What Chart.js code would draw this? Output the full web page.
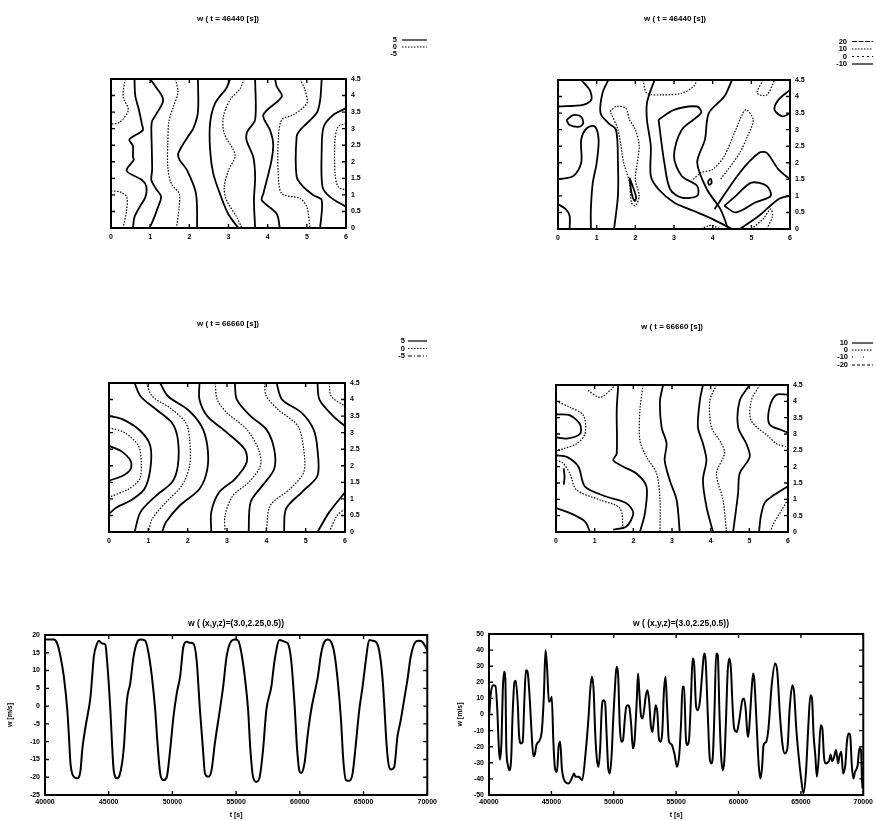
<!DOCTYPE html>
<html><head><meta charset="utf-8">
<script src="https://cdn.jsdelivr.net/npm/chart.js@4.4.0/dist/chart.umd.min.js"></script>
<style>
html,body{margin:0;padding:0;background:#fff;width:876px;height:821px;overflow:hidden;position:relative}
canvas{position:absolute}
</style></head><body>
<canvas id="tl" width="340" height="250" style="left:100px;top:0px;width:340px;height:250px"></canvas>
<canvas id="tr" width="346" height="250" style="left:530px;top:0px;width:346px;height:250px"></canvas>
<canvas id="ml" width="340" height="250" style="left:100px;top:300px;width:340px;height:250px"></canvas>
<canvas id="mr" width="346" height="250" style="left:530px;top:300px;width:346px;height:250px"></canvas>
<canvas id="bl" width="440" height="211" style="left:0px;top:610px;width:440px;height:211px"></canvas>
<canvas id="br" width="440" height="211" style="left:436px;top:610px;width:440px;height:211px"></canvas>
<script>
// ---------- tick values ----------
const contourXTicks = [0,1,2,3,4,5,6];
const contourYTicks = [0,0.5,1,1.5,2,2.5,3,3.5,4,4.5];
const timeTicks = [40000,45000,50000,55000,60000,65000,70000];
const wTicksLeft = [-25,-20,-15,-10,-5,0,5,10,15,20];
const wTicksRight = [-50,-40,-30,-20,-10,0,10,20,30,40,50];

// ---------- titles and contour levels ----------
const titleTop = "w ( t = 46440 [s])";
const titleMid = "w ( t = 66660 [s])";
const titleBottom = "w ( (x,y,z)=(3.0,2.25,0.5))";
const levelsTL = ["5","0","-5"];
const levelsTR = ["20","10","0","-10"];
const levelsML = ["5","0","-5"];
const levelsMR = ["10","0","-10","-20"];

// ---------- contour lines, t = 46440, left ----------
const tlSolid = [
 [[0.6,4.5],[0.62,3.99],[0.71,3.58],[0.79,3.13],[0.81,2.95],[0.47,2.67],[0.56,2.48],[0.56,2.16],[0.58,2.06],[0.4,1.73],[0.79,1.45],[0.9,1.26],[0.88,0.94],[0.73,0.63],[0.6,0.33],[0.56,0]],
 [[1.0,4.5],[1.15,4.25],[1.31,3.97],[1.32,3.79],[1.15,3.43],[1.05,3.23],[1.03,3.02],[1.04,2.46],[1.05,1.75],[1.03,1.45],[1.14,1.2],[1.28,0.94],[1.2,0.63],[1.07,0.22],[0.98,0]],
 [[2.22,4.5],[2.22,3.5],[2.1,3.0],[1.97,2.77],[1.72,2.26],[1.75,2.06],[1.94,1.75],[2.17,1.04],[2.2,0]],
 [[3.04,4.5],[2.95,4.23],[2.66,3.77],[2.53,3.17],[2.53,2.36],[2.61,1.65],[2.78,1.04],[2.99,0.43],[3.25,0]],
 [[3.68,4.5],[3.68,3.27],[3.48,2.91],[3.46,2.66],[3.63,2.15],[3.68,1.55],[3.65,0.84],[3.68,0]],
 [[4.19,4.5],[4.23,4.28],[4.36,3.97],[3.89,3.42],[4.06,2.96],[4.14,2.56],[4.1,2.05],[3.89,1.04],[3.85,0.84],[4.23,0.43],[4.31,0]],
 [[5.38,4.5],[5.34,3.87],[5.25,3.47],[4.83,2.96],[4.74,2.76],[4.74,1.55],[4.91,1.24],[5.17,0.99],[5.38,0.84],[5.34,0]],
 [[6,3.62],[5.68,3.42],[5.43,3.06],[5.38,2.36],[5.4,1.24],[5.59,0.94],[6,0.64]]
];
const tlDotted = [
 [[0.36,4.5],[0.31,3.97],[0.44,3.56],[0.23,3.2],[0,3.13]],
 [[0,1.12],[0.23,1.09],[0.4,0.94],[0.4,0.54],[0.31,0]],
 [[1.65,4.5],[1.71,4.09],[1.6,3.69],[1.48,3.23],[1.45,2.57],[1.45,1.85],[1.54,1.34],[1.74,1.04],[1.74,0.63],[1.67,0]],
 [[3.4,4.5],[3.29,4.2],[3.04,3.87],[2.87,3.37],[2.89,2.86],[3.17,2.2],[3.0,1.75],[2.89,1.24],[2.95,0.84],[3.21,0.33],[3.34,0]],
 [[4.83,4.5],[4.95,4.18],[5.0,3.77],[4.66,3.42],[4.36,3.27],[4.27,2.66],[4.27,1.65],[4.36,1.04],[4.83,0.89],[5.0,0.64],[5.08,0]],
 [[6,3.16],[5.8,3.06],[5.72,2.66],[5.72,1.65],[5.8,1.24],[6,1.14]]
];

// ---------- contour lines, t = 46440, right ----------
const trSolid = [
 [[0.6,4.5],[0.82,4.2],[0.86,3.9],[0.65,3.75],[0,3.7]],
 [[0.22,3.29],[0.39,3.44],[0.6,3.39],[0.65,3.19],[0.56,3.09],[0.3,3.14],[0.22,3.29]],
 [[0,1.5],[0.4,1.6],[0.6,2.0],[0.6,2.7],[0.75,3.05],[0.95,3.1],[1.05,2.7],[1.0,2.0],[0.9,1.4],[0.85,0.6],[0.85,0]],
 [[0,0.75],[0.2,0.6],[0.3,0.4],[0.3,0]],
 [[1.3,4.5],[1.15,4.1],[1.1,3.5],[1.3,3.2],[1.5,3.0],[1.55,2.0],[1.55,1.0],[1.45,0]],
 [[1.85,1.55],[1.93,1.3],[2.02,0.95],[1.98,0.85],[1.9,1.1],[1.85,1.55]],
 [[2.5,4.5],[2.4,4.2],[2.3,3.8],[2.3,3.3],[2.4,2.5],[2.4,1.6],[2.6,1.2],[3.0,0.8],[3.5,0.55],[4.0,0.3],[4.5,0]],
 [[2.6,3.3],[3.0,3.6],[3.6,3.7],[3.7,3.5],[3.2,3.0],[3.0,2.2],[3.2,1.6],[3.6,1.3],[3.6,1.0],[3.2,0.95],[2.9,1.2],[2.75,2.0],[2.6,3.3]],
 [[4.5,4.5],[4.3,4.0],[3.9,3.5],[3.8,2.7],[3.6,2.0],[3.85,1.2],[4.2,0.6],[4.4,0]],
 [[3.88,1.45],[3.95,1.52],[3.97,1.38],[3.9,1.34],[3.88,1.45]],
 [[4.05,0.6],[4.7,1.7],[5.2,2.3],[5.4,2.3],[5.7,1.8],[6,1.5]],
 [[4.3,0.7],[4.6,1.0],[5.0,1.4],[5.4,1.3],[5.5,1.0],[5.1,0.8],[4.6,0.5],[4.3,0.7]],
 [[4.7,0],[5.2,0.4],[5.7,0.9],[6,1.0]],
 [[6,4.2],[5.7,3.9],[5.6,3.6],[5.8,3.4],[6,3.5]]
];
const trDotted = [
 [[1.35,3.55],[1.5,3.7],[1.75,3.65],[1.85,3.3],[2.0,3.0],[2.1,2.5],[2.0,1.5],[2.1,1.0],[2.0,0.7],[1.9,0.8],[1.85,1.4],[1.7,2.0],[1.55,3.0],[1.35,3.55]],
 [[2.2,4.5],[2.3,4.1],[2.7,4.05],[3.2,4.1],[3.5,4.3],[3.6,4.5]],
 [[3.5,1.5],[3.7,1.7],[4.0,1.8],[4.3,2.2],[4.6,3.0],[4.85,3.6],[5.05,3.3],[4.9,2.8],[4.7,2.3],[4.4,1.8],[4.2,1.5]],
 [[5.3,4.5],[5.15,4.1],[5.4,4.05],[5.6,4.5]],
 [[5.0,0],[5.3,0.3],[5.5,0.6],[5.55,0.4],[5.4,0]],
 [[3.7,0],[3.9,0.1],[4.0,0.1],[4.2,0]]
];

// ---------- contour lines, t = 66660, left ----------
const mlSolid = [
 [[0,2.6],[0.3,2.45],[0.55,2.15],[0.55,1.9],[0.35,1.7],[0,1.55]],
 [[0,3.5],[0.35,3.4],[0.8,3.05],[1.05,2.6],[1.05,1.9],[0.9,1.3],[0.55,0.95],[0.2,0.75],[0,0.55]],
 [[0.65,4.5],[0.8,4.1],[1.2,3.7],[1.6,3.3],[1.75,2.8],[1.75,2.0],[1.6,1.5],[1.2,1.1],[0.8,0.6],[0.65,0]],
 [[1.3,4.5],[1.5,4.1],[2.0,3.7],[2.35,3.2],[2.5,2.6],[2.5,1.9],[2.3,1.3],[1.8,0.8],[1.45,0.3],[1.35,0]],
 [[2.3,4.5],[2.3,4.0],[2.5,3.5],[3.0,3.0],[3.45,2.5],[3.5,2.1],[3.2,1.6],[2.8,1.2],[2.6,0.6],[2.6,0]],
 [[3.2,4.5],[3.25,4.0],[3.6,3.5],[4.0,3.1],[4.2,2.5],[4.2,1.9],[3.9,1.4],[3.6,0.9],[3.55,0]],
 [[4.26,4.5],[4.4,4.0],[4.9,3.6],[5.2,3.1],[5.3,2.5],[5.3,1.7],[4.9,1.2],[4.5,0.7],[4.45,0]],
 [[5.3,4.5],[5.35,4.0],[5.7,3.5],[6,3.2]],
 [[5.3,0],[5.6,0.6],[6,1.2]]
];
const mlDotted = [
 [[0,3.15],[0.4,3.0],[0.75,2.6],[0.82,2.1],[0.78,1.6],[0.5,1.3],[0,1.05]],
 [[0.95,4.5],[1.1,4.1],[1.55,3.75],[1.95,3.3],[2.05,2.8],[2.05,2.0],[1.85,1.4],[1.45,0.9],[1.1,0.4],[1.0,0]],
 [[2.7,4.5],[2.75,4.0],[3.0,3.6],[3.5,3.1],[3.8,2.5],[3.85,2.0],[3.55,1.5],[3.15,1.1],[2.95,0.5],[2.95,0]],
 [[3.95,4.5],[4.0,4.1],[4.3,3.7],[4.8,3.2],[4.95,2.5],[4.95,1.8],[4.6,1.3],[4.1,0.8],[4.0,0]],
 [[5.6,4.5],[5.65,4.1],[6,3.8]],
 [[5.6,0],[5.8,0.5],[6,0.7]]
];

// ---------- contour lines, t = 66660, right ----------
const mrSolid = [
 [[0,3.6],[0.36,3.57],[0.62,3.3],[0.62,3.0],[0.28,2.86],[0,2.9]],
 [[0,2.35],[0.28,2.3],[0.58,2.0],[0.75,1.39],[1.31,1.08],[1.82,0.88],[2.0,0.58],[1.82,0.17],[1.48,0.07]],
 [[0,0.73],[0.36,0.58],[0.75,0.32],[0.88,0]],
 [[0.2,1.95],[0.22,1.7],[0.2,1.45]],
 [[1.61,4.5],[1.57,3.72],[1.57,2.4],[1.48,2.2],[1.74,2.0],[2.08,1.79],[2.34,1.39],[2.3,0.58],[2.17,0]],
 [[2.77,4.5],[2.69,4.02],[2.73,3.21],[2.86,2.71],[2.81,2.2],[2.94,1.59],[3.12,0.98],[3.2,0]],
 [[3.8,4.5],[3.72,4.02],[3.67,3.21],[3.8,2.71],[3.89,2.2],[3.8,1.59],[3.89,0.78],[4.06,0]],
 [[5.01,4.5],[4.75,4.02],[4.71,3.21],[4.92,2.71],[5.01,2.3],[4.75,1.79],[4.71,1.19],[4.58,0]],
 [[6,4.2],[5.7,4.2],[5.52,3.8],[5.52,3.3],[5.87,3.1],[6,3.05]],
 [[6,1.4],[5.6,1.1],[5.4,0.9],[5.3,0.5],[5.25,0]]
];
const mrDotted = [
 [[0.83,4.33],[1.14,4.12],[1.44,4.38],[1.52,4.5]],
 [[0,4.0],[0.36,3.82],[0.71,3.57],[0.75,3.0],[0.53,2.7],[0.19,2.55],[0,2.5]],
 [[0,2.2],[0.19,2.1],[0.36,1.79],[0.53,1.29],[1.14,0.98],[1.65,0.73],[1.74,0.07]],
 [[2.25,4.5],[2.17,3.72],[2.17,2.8],[2.34,2.3],[2.6,1.8],[2.69,0.98],[2.69,0]],
 [[4.15,4.5],[3.98,4.02],[4.02,3.21],[4.28,2.71],[4.36,2.4],[4.15,1.79],[4.32,0.98],[4.41,0]],
 [[5.27,4.5],[5.05,4.02],[5.05,3.41],[5.52,2.9],[5.7,2.7],[6,2.6]],
 [[6,1.0],[5.8,0.6],[5.6,0.2],[5.55,0]]
];

// ---------- time series ----------
const seriesLeft = [[40000,18.7],[40700,18.7],[40960,17.6],[41220,13.9],[41480,8.2],[41750,-1.1],[41880,-8.6],[42000,-16.1],[42270,-19.9],[42530,-20.3],[42790,-18],[42920,-12.4],[43180,-5.8],[43570,2.6],[43700,8.2],[43830,13.9],[44090,17.6],[44220,18.4],[44480,17.6],[44740,17.2],[44870,12.9],[45130,-1.1],[45260,-10.5],[45390,-18],[45650,-20.3],[45860,-19.4],[46170,-12.4],[46430,1.7],[46690,6.4],[46950,13.9],[47210,17.8],[47470,18.7],[47860,18.4],[48130,14.8],[48390,8.2],[48650,-1.1],[48830,-10.5],[49040,-18.9],[49300,-20.8],[49560,-19.9],[49820,-12.4],[50080,-3.0],[50340,3.6],[50600,8.2],[50860,16.7],[51120,18.1],[51380,17.8],[51640,17.6],[51900,12.9],[52160,-1.1],[52420,-13.3],[52550,-18.9],[52810,-19.9],[53070,-18],[53330,-10.5],[53720,-1.1],[53980,5.4],[54250,13.9],[54510,17.6],[54900,18.7],[55160,18.4],[55420,14.8],[55680,8.2],[55940,-1.1],[56120,-12.4],[56330,-19.9],[56590,-21.3],[56850,-19.9],[57110,-12.4],[57370,-1.1],[57760,5.4],[58020,12.9],[58410,18.6],[58800,18.1],[59060,17.6],[59320,12.9],[59580,0.7],[59790,-12.4],[59970,-18.3],[60100,-18.8],[60370,-16],[60630,-7.7],[60890,-1.1],[61150,3.6],[61410,8.2],[61670,14.8],[61930,18.1],[62190,18.7],[62450,18.1],[62710,14.8],[62970,7.3],[63230,-3.9],[63410,-15.2],[63620,-20.8],[63880,-21],[64140,-18.9],[64400,-10.5],[64660,-1.1],[64920,5.4],[65180,12.9],[65440,18.6],[65700,18.4],[65960,18.1],[66220,15.7],[66480,8.2],[66620,0.7],[66800,-10.5],[66950,-16.1],[67140,-17.8],[67400,-17.2],[67660,-8.6],[67920,-3.9],[68180,1.7],[68440,7.3],[68700,13.9],[69090,18.1],[69350,18.4],[69610,18.1],[69870,16.7],[70000,15.7]];
const seriesRight = [[40000,-2.5],[40130,12],[40310,18.2],[40520,17.8],[40660,3.7],[40790,-21],[40870,-28],[41000,-17],[41100,14],[41210,26.5],[41310,22],[41390,-21],[41520,-31.5],[41620,-34.6],[41780,-27],[41890,-0.4],[42040,20],[42150,21],[42310,5.8],[42410,-12.8],[42570,-18],[42700,-17],[42830,7.9],[42960,27.5],[43090,26.5],[43280,7.9],[43410,-10.8],[43560,-26],[43670,-25],[43800,-19],[44060,-16],[44240,-9.7],[44400,12],[44530,40],[44660,28.6],[44800,7.9],[44930,8.9],[45030,11],[45160,-17],[45290,-33.5],[45450,-35.6],[45580,-20],[45710,-17],[45840,-33.5],[46110,-41.8],[46370,-42.9],[46630,-39.8],[46810,-36.6],[46940,-38.7],[47210,-38.7],[47470,-40.8],[47730,-25],[47990,-0.4],[48120,16],[48250,23.4],[48380,16],[48520,-12.8],[48650,-28],[48780,-32.5],[48910,-21],[49040,3.7],[49170,8.9],[49300,7.9],[49430,-12.8],[49560,-33.5],[49690,-36.6],[49830,-25],[49960,-2.5],[50090,16],[50220,29.6],[50350,24.4],[50480,-6.6],[50610,-17],[50740,-16],[50870,-4.6],[51000,4.8],[51140,5.8],[51270,3.7],[51400,-6.6],[51530,-21],[51660,-17],[51840,7.9],[51950,25.5],[52050,14],[52180,-0.4],[52310,-2.5],[52580,12],[52710,15],[52840,7.9],[52970,-6.6],[53100,-10.8],[53230,-2.5],[53360,5.8],[53490,1.7],[53620,-15],[53760,-17],[53890,-10.8],[54020,14],[54150,23.4],[54280,3.7],[54410,-16],[54540,-18],[54670,-19],[54880,-25],[55070,-32.5],[55250,-25],[55410,-2.5],[55510,17.2],[55640,17.2],[55770,-12.8],[55900,-19],[56030,-16],[56190,10],[56320,34.8],[56450,30.6],[56590,5.8],[56720,2.7],[56900,7.9],[57080,24.4],[57240,37.9],[57370,32.7],[57550,-2.5],[57690,-27],[57820,-30.4],[57950,-25],[58080,3.7],[58210,37.9],[58340,36.9],[58470,1.7],[58600,-25],[58730,-34.6],[58860,-29],[59000,-2.5],[59130,26.5],[59260,34.8],[59390,28.6],[59520,5.8],[59650,-8.7],[59860,-10.8],[60040,-4.6],[60310,8.9],[60440,10],[60570,3.7],[60700,-10.8],[60780,-13.9],[60910,-2.5],[61040,14],[61170,25.5],[61270,21.3],[61430,-2.5],[61620,-31.5],[61750,-39.8],[61880,-33.5],[62010,-19],[62220,-17],[62400,-8.7],[62660,18.2],[62930,31.7],[63110,26.5],[63320,-0.4],[63530,-19],[63710,-24.2],[63920,-21],[64100,3.7],[64310,18.2],[64450,14],[64630,-8.7],[64810,-25],[65020,-39.8],[65200,-49],[65410,-35.6],[65600,-6.6],[65760,12],[65890,10],[66020,-12.8],[66150,-25],[66280,-38.7],[66410,-29],[66590,-6.6],[66720,-8.7],[66860,-27],[66990,-30.4],[67250,-29],[67380,-25],[67510,-29],[67640,-27],[67820,-22],[67980,-30.4],[68090,-26],[68240,-23.2],[68380,-36.6],[68560,-31.5],[68690,-17],[68820,-11.8],[68950,-12.8],[69080,-31.5],[69210,-39.8],[69340,-35.6],[69550,-31.5],[69690,-21],[69820,-22],[69920,-46],[70000,-33.5]];

// ---------- rendering ----------
const FAMILY = '"Liberation Sans", Arial, sans-serif';
const tickFont = {family: FAMILY, size: 7, weight: 'bold'};
const STYLE = {
  solid: {width: 1.8, dash: []},
  dotted: {width: 1.2, dash: [1.5, 1.5]},
  longdash: {width: 1, dash: [5, 1.5]},
  sparse: {width: 1, dash: [2, 3]},
  dashdot: {width: 1, dash: [4, 2, 1, 2]},
  dot: {width: 1, dash: [1, 10]},
  dash: {width: 1, dash: [3, 2]},
  none: null
};

const framePlugin = {
  id: 'frame',
  afterDatasetsDraw(chart, args, opts) {
    const {ctx, chartArea: a, scales} = chart;
    ctx.save();
    ctx.strokeStyle = '#000';
    ctx.lineWidth = 1.4;
    const L = 4;
    ctx.beginPath();
    scales.x.ticks.forEach(t => {
      const p = scales.x.getPixelForValue(t.value);
      ctx.moveTo(p, a.bottom); ctx.lineTo(p, a.bottom - L);
      ctx.moveTo(p, a.top); ctx.lineTo(p, a.top + L);
    });
    scales.y.ticks.forEach(t => {
      const p = scales.y.getPixelForValue(t.value);
      ctx.moveTo(a.left, p); ctx.lineTo(a.left + L, p);
      ctx.moveTo(a.right, p); ctx.lineTo(a.right - L, p);
    });
    ctx.stroke();
    ctx.lineWidth = 2;
    ctx.strokeRect(a.left, a.top, a.right - a.left, a.bottom - a.top);
    ctx.restore();
  },
  afterDraw(chart, args, opts) {
    const ctx = chart.ctx;
    ctx.save();
    ctx.fillStyle = '#000';
    ctx.textBaseline = 'middle';
    if (opts.title) {
      ctx.font = 'bold ' + opts.title.size + 'px ' + FAMILY;
      ctx.textAlign = 'center';
      ctx.fillText(opts.title.text, opts.title.x, opts.title.y);
    }
    if (opts.legend) {
      const lg = opts.legend;
      ctx.font = 'bold 7.5px ' + FAMILY;
      lg.labels.forEach((lab, i) => {
        const y = lg.rows[i];
        ctx.textAlign = 'right';
        ctx.fillText(lab, lg.x, y);
        const st = STYLE[lg.styles[i]];
        if (st) {
          ctx.beginPath();
          ctx.setLineDash(st.dash);
          ctx.lineWidth = Math.min(st.width, 1.2);
          ctx.strokeStyle = '#000';
          ctx.moveTo(lg.x0, y); ctx.lineTo(lg.x1, y);
          ctx.stroke();
          ctx.setLineDash([]);
        }
      });
    }
    ctx.restore();
  }
};

function lineDatasets(lines, styleName) {
  const st = STYLE[styleName];
  return lines.map(line => ({
    data: line.map(p => ({x: p[0], y: p[1]})),
    showLine: true, borderColor: '#000', borderWidth: st.width, borderDash: st.dash,
    pointRadius: 0, fill: false, tension: 0.3
  }));
}

function fixedTicks(values) {
  return scale => { scale.ticks = values.map(v => ({value: v})); };
}

const noGrid = {display: false, drawTicks: false};

function contourChart(id, groups, pad, sizes, frame) {
  const datasets = [];
  groups.forEach(g => datasets.push(...lineDatasets(g.lines, g.style)));
  new Chart(document.getElementById(id), {
    type: 'scatter',
    data: {datasets},
    options: {
      responsive: false, animation: false, events: [],
      layout: {padding: pad},
      plugins: {legend: {display: false}, tooltip: {enabled: false}, frame},
      scales: {
        x: {type: 'linear', min: 0, max: 6,
            afterBuildTicks: fixedTicks(contourXTicks),
            afterFit: s => { s.height = sizes.xh; },
            grid: noGrid, border: {display: false},
            ticks: {font: tickFont, color: '#000', padding: 5, maxRotation: 0, callback: v => String(v)}},
        y: {type: 'linear', position: 'right', min: 0, max: 4.5,
            afterBuildTicks: fixedTicks(contourYTicks),
            afterFit: s => { s.width = sizes.yw; },
            grid: noGrid, border: {display: false},
            ticks: {font: tickFont, color: '#000', padding: 5, callback: v => String(v)}}
      }
    },
    plugins: [framePlugin]
  });
}

contourChart('tl', [{lines: tlSolid, style: 'solid'}, {lines: tlDotted, style: 'dotted'}],
  {left: 11, top: 79, right: 72, bottom: 0}, {xh: 22, yw: 22},
  {title: {text: titleTop, x: 128, y: 19, size: 8},
   legend: {labels: levelsTL, styles: ['solid', 'dotted', 'none'], rows: [40, 47, 54], x: 297, x0: 302, x1: 327}});

contourChart('tr', [{lines: trSolid, style: 'solid'}, {lines: trDotted, style: 'dotted'}],
  {left: 28, top: 80, right: 64, bottom: 0}, {xh: 21, yw: 22},
  {title: {text: titleTop, x: 145, y: 19, size: 8},
   legend: {labels: levelsTR, styles: ['longdash', 'dotted', 'sparse', 'solid'], rows: [41.5, 49, 56.5, 64], x: 317, x0: 322, x1: 343}});

contourChart('ml', [{lines: mlSolid, style: 'solid'}, {lines: mlDotted, style: 'dotted'}],
  {left: 9, top: 83, right: 73, bottom: 0}, {xh: 18, yw: 22},
  {title: {text: titleMid, x: 128, y: 24, size: 8},
   legend: {labels: levelsML, styles: ['solid', 'dotted', 'dashdot'], rows: [41, 48.5, 56], x: 305, x0: 308, x1: 327}});

contourChart('mr', [{lines: mrSolid, style: 'solid'}, {lines: mrDotted, style: 'dotted'}],
  {left: 26, top: 85, right: 66, bottom: 0}, {xh: 18, yw: 22},
  {title: {text: titleMid, x: 142, y: 27, size: 8},
   legend: {labels: levelsMR, styles: ['solid', 'dotted', 'dot', 'dash'], rows: [43, 50, 57, 65], x: 318, x0: 322, x1: 343}});

function seriesChart(id, series, yMin, yMax, yTicks, pad, sizes, titlePadTop, frame) {
  new Chart(document.getElementById(id), {
    type: 'line',
    data: {datasets: [{
      data: series.map(p => ({x: p[0], y: p[1]})),
      borderColor: '#000', borderWidth: 2, pointRadius: 0, fill: false,
      cubicInterpolationMode: 'monotone'
    }]},
    options: {
      responsive: false, animation: false, events: [],
      layout: {padding: pad},
      plugins: {legend: {display: false}, tooltip: {enabled: false}, frame},
      scales: {
        x: {type: 'linear', min: 40000, max: 70000,
            afterBuildTicks: fixedTicks(timeTicks),
            afterFit: s => { s.height = sizes.xh; },
            grid: noGrid, border: {display: false},
            ticks: {font: tickFont, color: '#000', padding: 3, maxRotation: 0, callback: v => String(v)},
            title: {display: true, text: 't [s]', font: tickFont, color: '#000', padding: {top: 0, bottom: 2}}},
        y: {type: 'linear', min: yMin, max: yMax,
            afterBuildTicks: fixedTicks(yTicks),
            afterFit: s => { s.width = sizes.yw; },
            grid: noGrid, border: {display: false},
            ticks: {font: tickFont, color: '#000', padding: 5, callback: v => String(v)},
            title: {display: true, text: 'w [m/s]', font: tickFont, color: '#000', padding: {top: titlePadTop, bottom: 0}}}
      }
    },
    plugins: [framePlugin]
  });
}

seriesChart('bl', seriesLeft, -25, 20, wTicksLeft, {left: 4, top: 25, right: 12, bottom: 0}, {xh: 26, yw: 41}, 2,
  {title: {text: titleBottom, x: 236, y: 14, size: 8.5}});
seriesChart('br', seriesRight, -50, 50, wTicksRight, {left: 18, top: 24, right: 5, bottom: 0}, {xh: 26, yw: 35}, 2,
  {title: {text: titleBottom, x: 245, y: 14, size: 8.5}});
</script>
</body></html>
